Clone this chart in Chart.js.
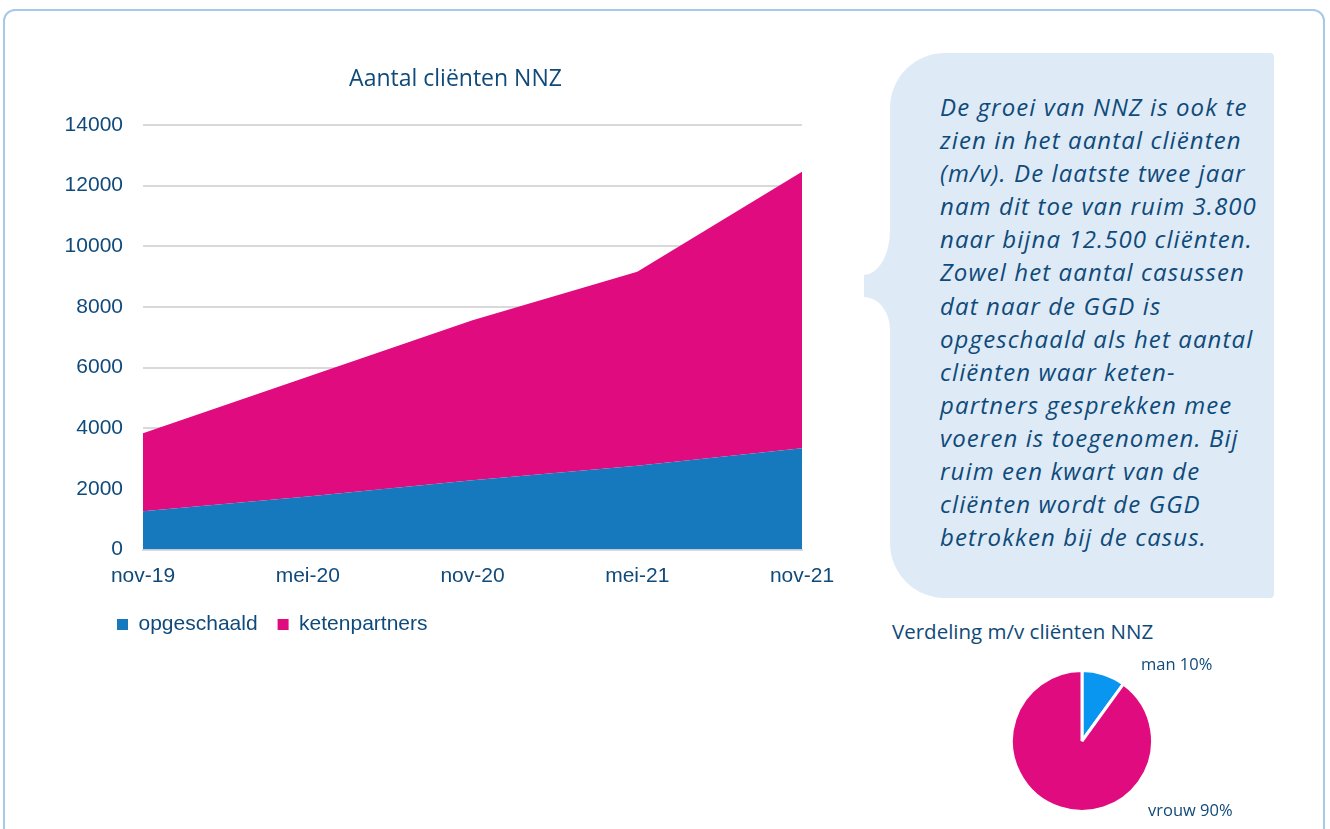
<!DOCTYPE html>
<html>
<head>
<meta charset="utf-8">
<script src="https://cdn.jsdelivr.net/npm/chart.js@4.4.1/dist/chart.umd.min.js"></script>
<style>
  html, body { margin: 0; padding: 0; background: #ffffff; width: 1330px; height: 829px; overflow: hidden; }
  #card { position: absolute; left: 3px; top: 9px; width: 1322px; height: 900px; box-sizing: border-box;
          border: 2px solid #a6c9e8; border-radius: 12px; background: #fff; }
  #areaWrap { position: absolute; left: 0; top: 0; width: 860px; height: 680px; }
  #bubble { position: absolute; left: 0; top: 0; }
  #bubbleText { position: absolute; left: 940px; top: 90px; width: 340px; font-family: 'Open Sans', sans-serif;
                font-style: italic; font-size: 24px; letter-spacing: 1.1px; line-height: 33.1px; color: #0f4a7a; white-space: nowrap; }
  #pieTitle { position: absolute; left: 892px; top: 617px; font-family: 'Open Sans', sans-serif; font-size: 20.5px; color: #0f4a7a; white-space: nowrap; }
  .pieLbl { position: absolute; font-family: 'Open Sans', sans-serif; font-size: 16.5px; color: #0f4a7a; white-space: nowrap; }
  #pieWrap { position: absolute; left: 1010px; top: 669px; width: 144px; height: 144px; }
</style>
</head>
<body>
<div id="card"></div>
<svg id="bubble" width="1330" height="829">
  <path d="M 945 53 L 1270 53 Q 1274 53 1274 57 L 1274 594 Q 1274 598 1270 598 L 945 598 A 55 55 0 0 1 890 543 L 890 330 A 26 33 0 0 0 864 297 L 864 275 A 26 45 0 0 0 890 230 L 890 108 A 55 55 0 0 1 945 53 Z" fill="#deebf6"/>
</svg>
<div id="bubbleText">De groei van NNZ is ook te<br>zien in het aantal cliënten<br>(m/v). De laatste twee jaar<br>nam dit toe van ruim 3.800<br>naar bijna 12.500 cliënten.<br>Zowel het aantal casussen<br>dat naar de GGD is<br>opgeschaald als het aantal<br>cliënten waar keten-<br>partners gesprekken mee<br>voeren is toegenomen. Bij<br>ruim een kwart van de<br>cliënten wordt de GGD<br>betrokken bij de casus.</div>
<div id="areaWrap"><canvas id="area"></canvas></div>
<div id="pieTitle">Verdeling m/v cliënten NNZ</div>
<div id="pieWrap"><canvas id="pie"></canvas></div>
<div class="pieLbl" style="left:1141px; top:652px;">man 10%</div>
<div class="pieLbl" style="left:1148px; top:798px;">vrouw 90%</div>
<script>
const categories = ['nov-19', 'mei-20', 'nov-20', 'mei-21', 'nov-21'];
const opgeschaald = [1260, 1750, 2280, 2760, 3340];
const ketenpartners = [2575, 3950, 5280, 6400, 9120];
const seriesNames = ['opgeschaald', 'ketenpartners'];
const yMin = 0, yMax = 14000, yStep = 2000;
const pieLabels = ['man', 'vrouw'];
const pieValues = [10, 90];

const TXT = '#0f4a7a';
const BLUE = '#1679bd';
const PINK = '#e10b80';

// shift legend and title boxes horizontally after layout (matches original layout)
const nudge = {
  id: 'nudge',
  afterLayout(chart) {
    if (chart.legend) { chart.legend.left = 97; }
    if (chart.titleBlock) { chart.titleBlock.left = 109; chart.titleBlock.right = 802; }
  }
};

new Chart(document.getElementById('area'), {
  type: 'line',
  data: {
    labels: categories,
    datasets: [
      { label: seriesNames[0], data: opgeschaald, backgroundColor: BLUE, borderColor: BLUE, borderWidth: 0, fill: 'origin', pointRadius: 0, tension: 0 },
      { label: seriesNames[1], data: ketenpartners, backgroundColor: PINK, borderColor: PINK, borderWidth: 0, fill: '-1', pointRadius: 0, tension: 0 }
    ]
  },
  plugins: [nudge],
  options: {
    responsive: true, maintainAspectRatio: false, animation: false,
    layout: { padding: { left: 0, right: 58, top: 0, bottom: 35 } },
    plugins: {
      title: { display: true, text: 'Aantal cliënten NNZ', color: TXT,
               font: { family: 'Open Sans', size: 23, weight: 'normal' }, padding: { top: 66, bottom: 31.4 } },
      legend: { display: true, position: 'bottom', align: 'start',
                labels: { color: TXT, font: { family: 'Liberation Sans', size: 21 }, boxWidth: 11, boxHeight: 11, padding: 20 } },
      tooltip: { enabled: false }
    },
    scales: {
      x: { grid: { display: false, drawTicks: false }, border: { display: true, color: '#d9d9d9', width: 2 },
           ticks: { color: TXT, font: { family: 'Liberation Sans', size: 21 }, padding: 14, maxRotation: 0 },
           afterFit: s => { s.height = 44.5; } },
      y: { stacked: true, min: yMin, max: yMax,
           grid: { color: '#d9d9d9', lineWidth: 2, drawTicks: false }, border: { display: false },
           ticks: { stepSize: yStep, color: TXT, font: { family: 'Liberation Sans', size: 21 }, padding: 20,
                    callback: v => String(v) },
           afterFit: s => { s.width = 143; } }
    }
  }
});

new Chart(document.getElementById('pie'), {
  type: 'pie',
  data: { labels: pieLabels, datasets: [{ data: pieValues, backgroundColor: ['#0996f0', PINK], borderColor: '#ffffff', borderWidth: 3 }] },
  options: { responsive: true, maintainAspectRatio: false, animation: false,
             plugins: { legend: { display: false }, tooltip: { enabled: false } } }
});
</script>
</body>
</html>
